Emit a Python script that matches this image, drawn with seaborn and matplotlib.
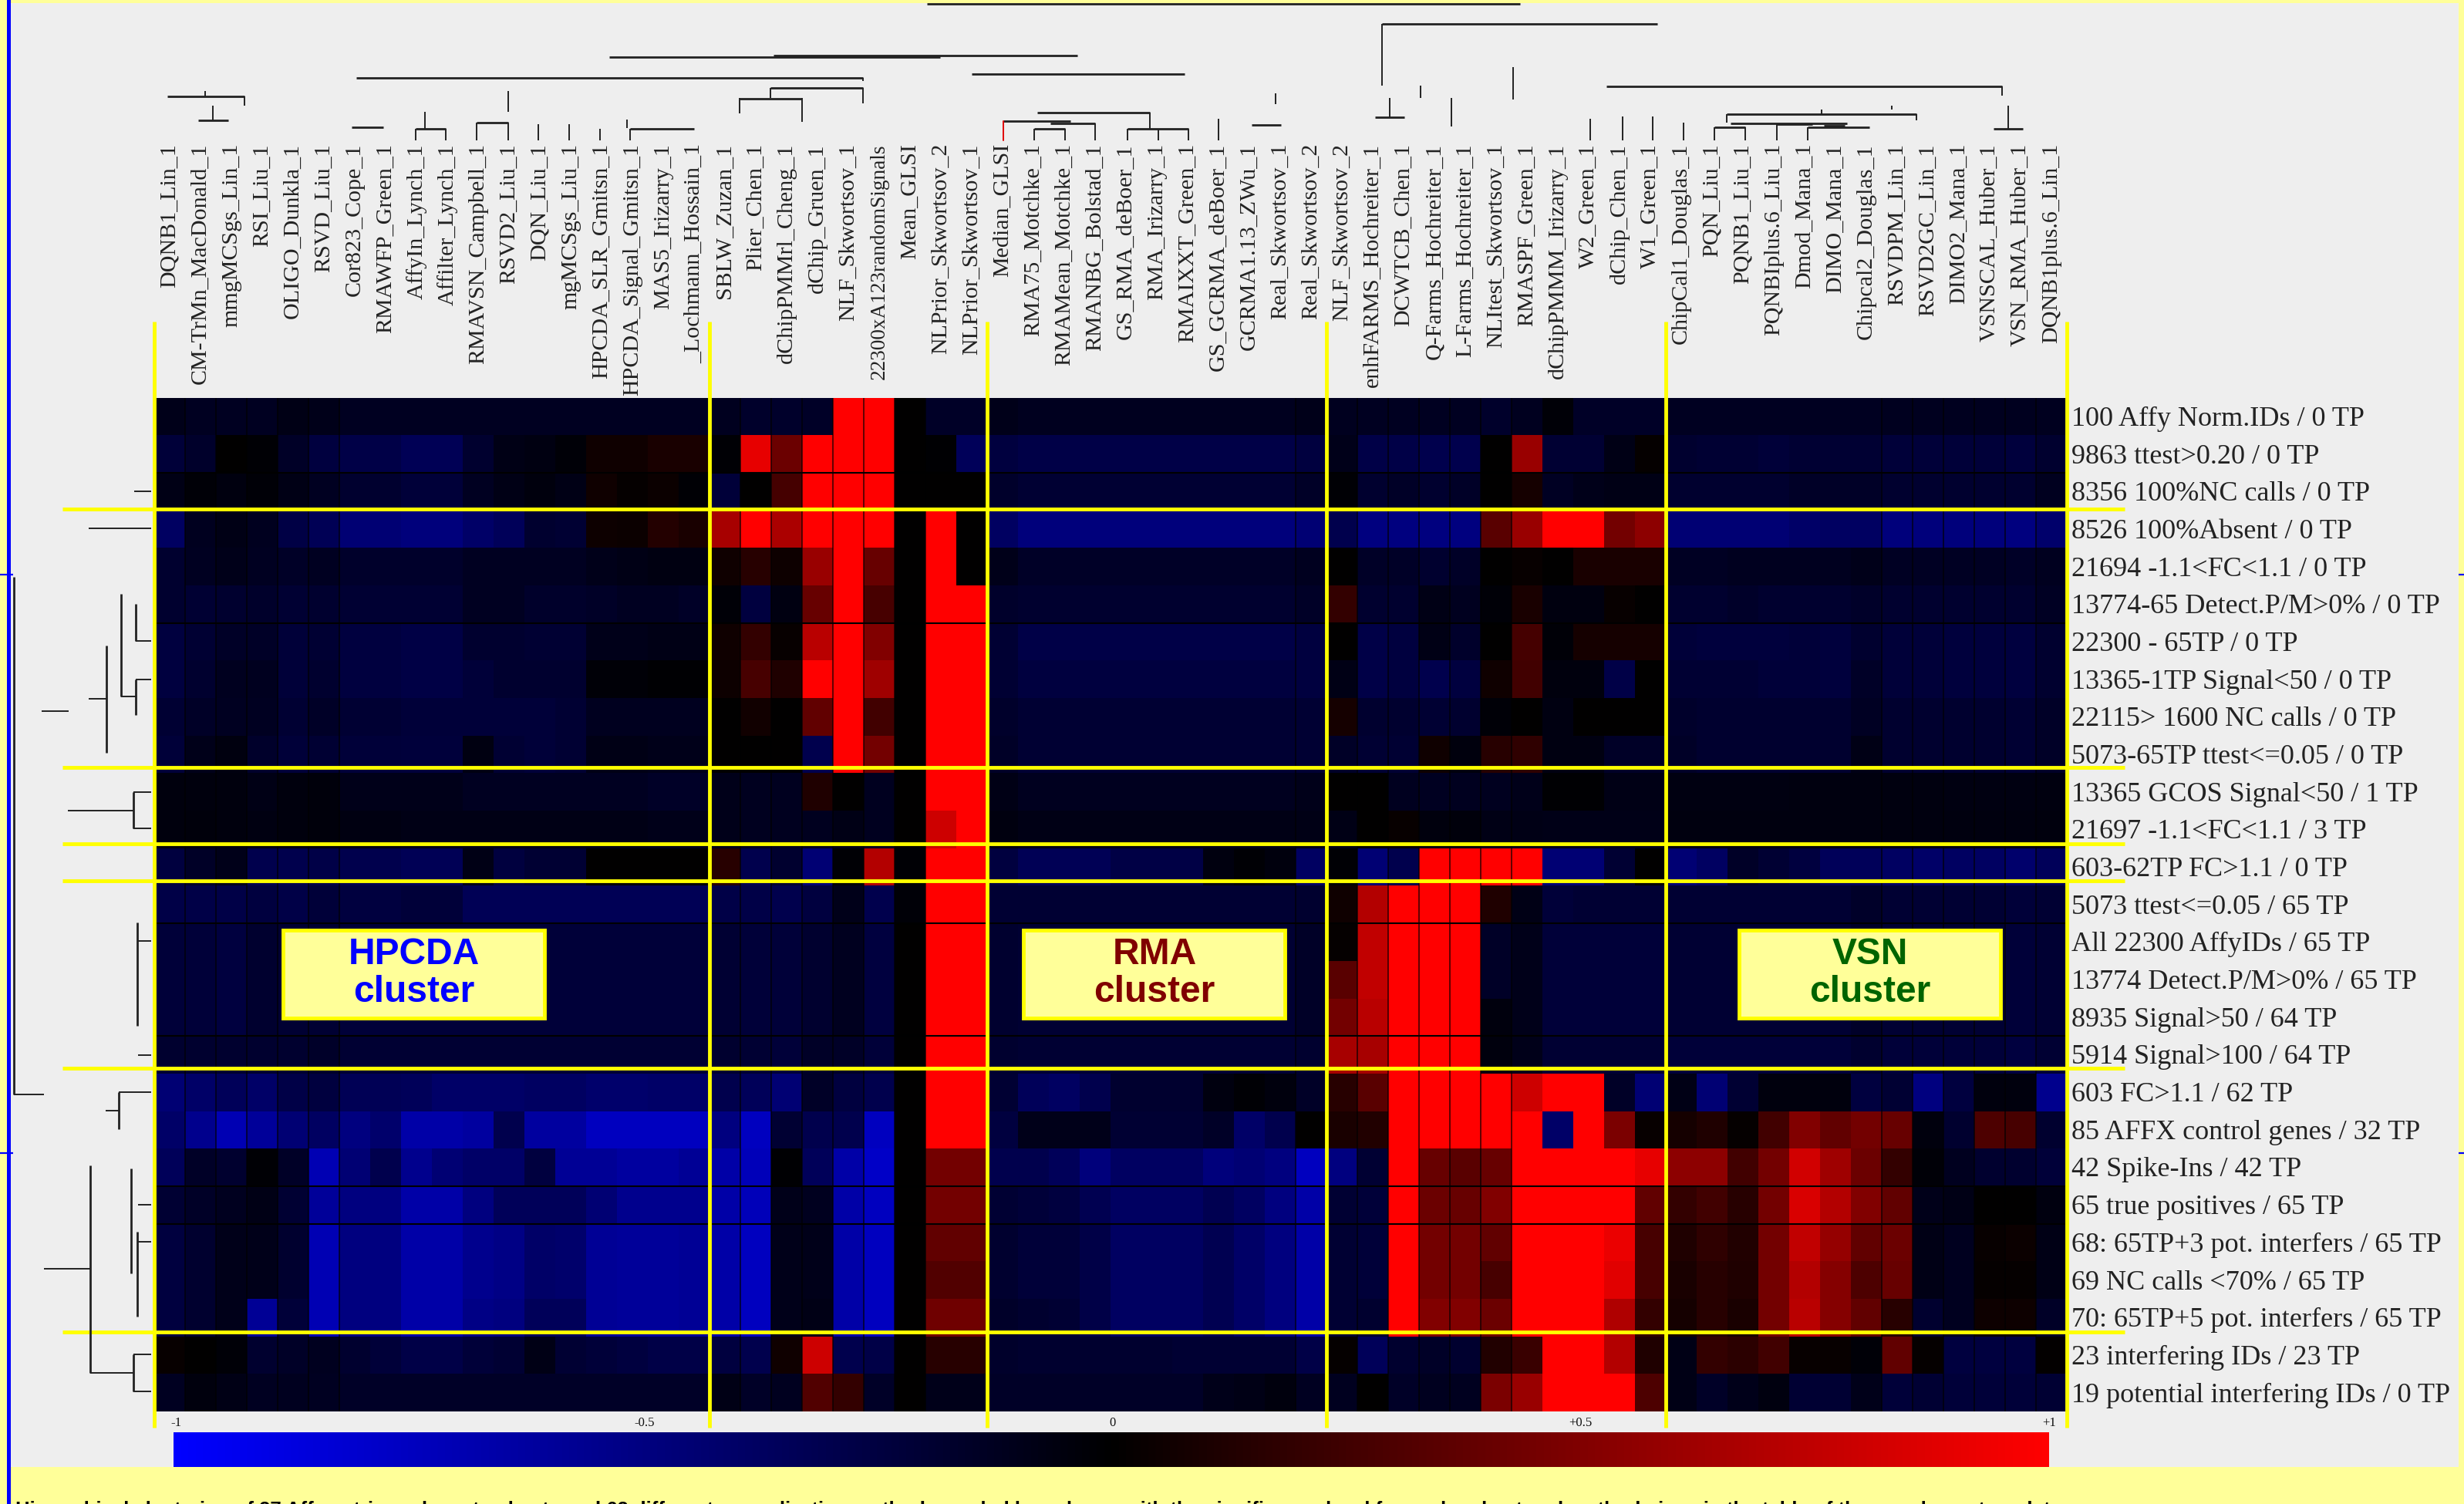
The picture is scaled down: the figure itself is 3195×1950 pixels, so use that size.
import numpy as np
import pandas as pd
import seaborn as sns
import matplotlib
matplotlib.use("Agg")
import matplotlib.pyplot as plt
from matplotlib.colors import LinearSegmentedColormap, Normalize
from matplotlib.cm import ScalarMappable
from matplotlib.patches import Rectangle

method_labels = ["DQNB1_Lin_1","CM-TrMn_MacDonald_1","mmgMCSgs_Lin_1","RSI_Liu_1","OLIGO_Dunkla_1","RSVD_Liu_1",
"Cor823_Cope_1","RMAWFP_Green_1","AffyIn_Lynch_1","Affilter_Lynch_1","RMAVSN_Campbell_1","RSVD2_Liu_1",
"DQN_Liu_1","mgMCSgs_Liu_1","HPCDA_SLR_Gmitsn_1","HPCDA_Signal_Gmitsn_1","MAS5_Irizarry_1","_Lochmann_Hossain_1",
"SBLW_Zuzan_1","Plier_Chen_1","dChipPMMrl_Cheng_1","dChip_Gruen_1","NLF_Skwortsov_1","22300xA123randomSignals",
"Mean_GLSI","NLPrior_Skwortsov_2","NLPrior_Skwortsov_1","Median_GLSI","RMA75_Motchke_1","RMAMean_Motchke_1",
"RMANBG_Bolstad_1","GS_RMA_deBoer_1","RMA_Irizarry_1","RMAIXXT_Green_1","GS_GCRMA_deBoer_1","GCRMA1.13_ZWu_1",
"Real_Skwortsov_1","Real_Skwortsov_2","NLF_Skwortsov_2","enhFARMS_Hochreiter_1","DCWTCB_Chen_1","Q-Farms_Hochreiter_1",
"L-Farms_Hochreiter_1","NLItest_Skwortsov_1","RMASPF_Green_1","dChipPMMM_Irizarry_1","W2_Green_1","dChip_Chen_1",
"W1_Green_1","ChipCal1_Douglas_1","PQN_Liu_1","PQNB1_Liu_1","PQNBIplus.6_Liu_1","Dmod_Mana_1","DIMO_Mana_1",
"Chipcal2_Douglas_1","RSVDPM_Lin_1","RSVD2GC_Lin_1","DIMO2_Mana_1","VSNSCAL_Huber_1","VSN_RMA_Huber_1","DQNB1plus.6_Lin_1"]

subset_labels = ["100 Affy Norm.IDs / 0 TP","9863 ttest>0.20 / 0 TP","8356 100%NC calls / 0 TP","8526 100%Absent / 0 TP",
"21694 -1.1<FC<1.1 / 0 TP","13774-65 Detect.P/M>0% / 0 TP","22300 - 65TP / 0 TP","13365-1TP Signal<50 / 0 TP",
"22115> 1600 NC calls / 0 TP","5073-65TP ttest<=0.05 / 0 TP","13365 GCOS Signal<50 / 1 TP","21697 -1.1<FC<1.1 / 3 TP",
"603-62TP FC>1.1 / 0 TP","5073 ttest<=0.05 / 65 TP","All 22300 AffyIDs / 65 TP","13774 Detect.P/M>0% / 65 TP",
"8935 Signal>50 / 64 TP","5914 Signal>100 / 64 TP","603 FC>1.1 / 62 TP","85 AFFX control genes / 32 TP",
"42 Spike-Ins / 42 TP","65 true positives / 65 TP","68: 65TP+3 pot. interfers / 65 TP","69 NC calls <70% / 65 TP",
"70: 65TP+5 pot. interfers / 65 TP","23 interfering IDs / 23 TP","19 potential interfering IDs / 0 TP"]

r00 = [-10,-13,-13,-13,-8,-10,-13,-13,-13,-13,-13,-13,-13,-13,-13,-13,-13,-13,-12,-17,-17,-15,100,100,0,-15,-15, -10,-12,-12,-12,-12,-12,-12,-12,-12,-12,-10, -12,-13,-13,-13,-13,-17,-12,-3,-15,-15,-15, -13,-13,-13,-13,-13,-13,-13,-12,-12,-12,-12,-12,-12]
r01 = [-22,-17,0,-2,-15,-25,-28,-28,-33,-33,-18,-8,-7,-3,6,6,10,10,-2,90,42,100,100,100,0,-1,-35, -25,-28,-28,-28,-28,-28,-28,-28,-28,-28,-25, -10,-28,-28,-30,-30,0,60,-20,-20,-8,2, -18,-20,-20,-22,-20,-20,-20,-22,-22,-22,-22,-24,-18]
r02 = [-8,-3,-6,-3,-8,-13,-18,-18,-22,-22,-13,-8,-5,-8,6,2,4,-2,-22,0,27,100,100,100,0,0,0, -17,-20,-20,-20,-20,-20,-20,-20,-20,-20,-15, -2,-18,-15,-18,-15,0,8,-14,-10,-8,-8, -18,-18,-18,-18,-15,-15,-15,-18,-18,-18,-18,-18,-12]
r03 = [-38,-12,-8,-12,-27,-33,-45,-45,-48,-48,-40,-35,-18,-20,5,4,14,10,65,100,67,100,100,100,0,100,0, -38,-48,-48,-48,-48,-48,-48,-48,-48,-48,-45, -30,-50,-50,-50,-50,35,60,100,100,45,55, -45,-45,-45,-45,-40,-38,-38,-48,-48,-48,-48,-50,-42]
r04 = [-18,-13,-10,-13,-15,-13,-17,-17,-17,-17,-13,-13,-13,-13,-10,-8,-7,-7,6,15,5,60,100,40,0,100,0, -10,-15,-15,-15,-15,-15,-15,-15,-15,-15,-12, 0,-15,-15,-18,-15,0,3,0,10,10,10, -14,-14,-12,-12,-12,-12,-10,-14,-14,-14,-14,-15,-12]
r05 = [-18,-20,-18,-17,-20,-18,-20,-20,-20,-20,-13,-13,-17,-17,-15,-13,-13,-15,-3,-25,-7,40,100,28,0,100,100, -17,-18,-18,-18,-18,-18,-18,-18,-18,-18,-15, 20,-18,-18,-8,-12,-3,10,-6,-6,3,0, -18,-18,-16,-18,-18,-18,-16,-18,-18,-18,-18,-18,-14]
r06 = [-25,-20,-15,-15,-22,-20,-25,-25,-27,-27,-18,-18,-20,-20,-10,-10,-8,-8,6,20,3,72,100,50,0,100,100, -20,-28,-28,-28,-28,-28,-28,-28,-28,-28,-25, 0,-28,-25,-8,-17,0,27,-3,8,8,8, -22,-24,-24,-24,-22,-24,-18,-22,-22,-24,-24,-25,-18]
r07 = [-25,-18,-12,-12,-22,-18,-25,-25,-27,-27,-22,-18,-18,-18,-3,-3,-1,-1,5,28,12,100,100,62,0,100,100, -20,-25,-25,-25,-25,-25,-25,-25,-25,-25,-25, -8,-28,-25,-30,-25,6,25,-5,-5,-28,0, -20,-20,-20,-22,-22,-24,-15,-22,-22,-24,-24,-25,-18]
r08 = [-20,-15,-13,-13,-20,-15,-20,-20,-22,-22,-22,-22,-22,-20,-12,-12,-12,-12,0,7,0,38,100,25,0,100,100, -17,-20,-20,-20,-20,-20,-20,-20,-20,-20,-20, 8,-18,-18,-20,-18,-3,0,-7,0,0,0, -17,-18,-18,-18,-18,-18,-14,-18,-18,-18,-18,-20,-15]
r09 = [-22,-10,-6,-17,-22,-20,-22,-22,-23,-23,-7,-20,-22,-20,-8,-8,-10,-10,0,0,0,-30,100,45,0,100,100, -15,-20,-20,-20,-20,-20,-20,-20,-20,-20,-20, -15,-20,-20,6,-5,15,18,-7,-7,-15,-15, -15,-18,-18,-18,-18,-18,-8,-18,-18,-18,-18,-20,-15]
r10 = [-5,-5,-5,-8,-5,-4,-10,-10,-10,-10,-13,-13,-13,-13,-13,-13,-15,-15,-10,-12,-12,12,0,-12,0,100,100, -8,-12,-12,-12,-12,-12,-12,-12,-12,-12,-10, 0,0,-12,-13,-12,-12,-10,-1,-1,-8,-8, -7,-7,-7,-7,-6,-6,-6,-6,-6,-7,-7,-7,-6]
r11 = [-5,-4,-5,-7,-5,-4,-7,-7,-8,-8,-8,-8,-8,-8,-8,-8,-10,-10,-10,-12,-12,-12,-8,-12,0,80,100, -6,-8,-8,-8,-8,-8,-8,-8,-8,-8,-8, -8,0,3,-5,-4,-8,-8,-9,-9,-9,-9, -6,-6,-6,-6,-6,-6,-6,-6,-6,-6,-6,-6,-5]
r12 = [-25,-15,-10,-30,-30,-28,-30,-30,-33,-33,-8,-25,-20,-20,0,0,0,0,15,-30,-18,-45,-2,70,-2,100,100, -25,-33,-33,-33,-27,-27,-27,-6,-2,-5,-38, -2,-45,-30,100,100,100,100,-45,-45,-20,0, -45,-38,-15,-20,-25,-35,-35,-38,-40,-38,-38,-42,-35]
r13 = [-28,-28,-28,-25,-28,-22,-25,-25,-22,-22,-33,-33,-33,-33,-33,-33,-33,-33,-28,-28,-30,-25,-10,-30,-3,100,100, -20,-20,-20,-20,-20,-20,-20,-20,-20,-20,-18, 6,70,100,100,100,12,-8,-22,-20,-20,-20, -20,-20,-20,-20,-20,-20,-16,-20,-20,-20,-20,-22,-20]
r14 = [-22,-22,-25,-18,-20,-20,-22,-22,-22,-22,-22,-22,-22,-22,-22,-22,-22,-22,-20,-22,-22,-18,-12,-25,0,100,100, -18,-20,-20,-20,-20,-20,-20,-20,-20,-20,-15, 2,75,100,100,100,-15,-10,-22,-22,-22,-22, -20,-20,-20,-20,-20,-20,-16,-20,-20,-20,-20,-22,-20]
r15 = [-22,-22,-25,-18,-20,-20,-22,-22,-22,-22,-22,-22,-22,-22,-22,-22,-22,-22,-20,-22,-22,-18,-12,-25,0,100,100, -18,-20,-20,-20,-20,-20,-20,-20,-20,-20,-15, 35,75,100,100,100,-15,-10,-22,-22,-22,-22, -20,-20,-20,-20,-20,-20,-16,-20,-20,-20,-20,-22,-20]
r16 = [-22,-22,-25,-18,-20,-20,-22,-22,-22,-22,-22,-22,-22,-22,-22,-22,-22,-22,-20,-22,-22,-18,-12,-25,0,100,100, -18,-20,-20,-20,-20,-20,-20,-20,-20,-20,-15, 45,72,100,100,100,-5,-10,-22,-22,-22,-22, -20,-20,-20,-20,-20,-20,-16,-20,-20,-20,-20,-22,-20]
r17 = [-18,-18,-18,-18,-18,-16,-20,-20,-20,-20,-20,-20,-20,-20,-20,-20,-20,-20,-18,-20,-22,-15,-15,-22,0,100,100, -18,-20,-20,-20,-20,-20,-20,-20,-20,-20,-18, 65,65,100,100,100,-5,-10,-20,-20,-20,-20, -22,-22,-22,-22,-22,-22,-18,-22,-22,-22,-22,-25,-20]
r18 = [-45,-40,-35,-40,-28,-25,-33,-33,-35,-40,-40,-40,-38,-38,-42,-42,-40,-40,-30,-35,-45,-15,-25,-30,0,100,100, -20,-35,-38,-30,-18,-18,-18,-6,-2,-5,-15, 15,35,100,100,100,100,80,100,100,-15,-45, -8,-45,-20,-5,-5,-5,-25,-20,-50,-25,-5,-5,-55]
r19 = [-40,-55,-70,-60,-45,-38,-50,-42,-65,-65,-62,-30,-62,-62,-75,-75,-75,-75,-50,-75,-20,-30,-30,-75,0,100,100, -25,-10,-10,-10,-20,-20,-20,-15,-40,-30,0, 10,13,100,100,100,100,100,-40,100,48,3, 8,12,2,25,50,38,45,40,-5,-18,30,28,-18]
r20 = [-35,-15,-18,-2,-15,-70,-45,-30,-55,-45,-40,-40,-25,-58,-58,-62,-62,-58,-65,-72,-1,-35,-65,-78,0,45,45, -30,-30,-35,-48,-38,-38,-38,-48,-45,-50,-75, -50,-20,100,40,35,40,100,100,100,100,90, 55,55,25,45,82,62,42,20,-3,-12,-18,-18,-22]
r21 = [-20,-15,-12,-8,-20,-60,-50,-50,-65,-65,-50,-35,-35,-35,-45,-55,-55,-55,-65,-72,-10,-12,-65,-75,0,45,45, -20,-22,-25,-32,-38,-38,-38,-32,-38,-50,-65, -20,-22,100,42,40,50,100,100,100,100,38, 20,25,15,45,85,70,50,38,-10,-8,0,0,-6]
r22 = [-25,-18,-10,-10,-18,-70,-50,-50,-65,-65,-55,-52,-40,-42,-58,-60,-60,-58,-65,-75,-10,-10,-65,-75,0,38,38, -18,-22,-22,-28,-38,-38,-38,-32,-40,-50,-65, -20,-22,100,45,45,38,100,100,100,92,28, 12,18,13,45,75,58,38,42,-8,-12,3,4,-8]
r23 = [-25,-18,-10,-10,-18,-70,-50,-50,-65,-65,-55,-52,-40,-42,-58,-60,-60,-58,-65,-75,-10,-10,-65,-75,0,32,32, -18,-22,-22,-28,-38,-38,-38,-32,-40,-50,-65, -20,-22,100,45,45,28,100,100,100,88,28, 10,15,12,45,70,52,30,40,-8,-12,2,2,-8]
r24 = [-25,-18,-10,-58,-22,-70,-50,-50,-65,-65,-52,-50,-35,-35,-58,-60,-60,-58,-65,-75,-10,-8,-65,-75,0,43,43, -16,-18,-20,-28,-38,-38,-38,-32,-40,-50,-65, -20,-18,100,50,50,42,100,100,100,68,20, 8,15,10,45,72,52,38,15,-18,-12,5,5,-15]
r25 = [3,0,-3,-18,-15,-12,-18,-22,-28,-28,-22,-20,-8,-20,-22,-25,-28,-28,-25,-30,6,80,-30,-28,0,15,15, -17,-18,-18,-18,-18,-18,-20,-20,-20,-20,-28, 2,-35,-18,-15,-18,13,22,100,100,70,12, -8,20,17,25,3,3,-3,38,2,-25,-25,-25,1]
r26 = [-13,-5,-8,-13,-12,-13,-15,-15,-15,-15,-15,-15,-15,-15,-15,-15,-15,-15,-8,-15,-12,32,20,-15,0,-10,-10, -15,-15,-15,-15,-15,-15,-15,-10,-8,-5,-13, -12,0,-15,-12,-12,48,60,100,100,100,30, -8,-15,-10,-6,-20,-20,-10,-22,-20,-22,-22,-22,-20]

rows = [r00,r01,r02,r03,r04,r05,r06,r07,r08,r09,r10,r11,r12,r13,r14,r15,r16,r17,r18,r19,r20,r21,r22,r23,r24,r25,r26]

# cluster separators (in column / row units)
yellow_cols = [0, 18, 27, 38, 49, 62]
yellow_rows = [2.97, 9.85, 11.88, 12.87, 17.86, 24.88]
dark_cols = [1,2,3,4,5,6,19,20,21,22,23,24,25,37,39,40,41,42,43,44,56,57,58,59,60,61]
dark_rows = [2, 6, 14, 17, 21, 22]
scale_ticks = ["-1", "-0.5", "0", "+0.5", "+1"]

# dendrogram segments (overlay pixel scale)
top_h = [(217,317.5,125),(257,296,156),(462,1119,101),(790,1219,74),(1003,1397,72),(1202,1971,5),(1260,1536,96),
(999,1119,114),(959,1040,127.5),(456,497,165),(539,578,167),(618,659,159),(817,900,167),
(1301,1388,157),(1362,1420,160),(1341,1381,167),(1345,1491,146),(1462,1541,167),(1623,1661,162),
(1792,2149,31),(1783,1821,152),(2083,2596,112),(2239,2485,148),(2244,2395,160),(2304,2350,161),(2223,2263,165),
(2344,2424,165),(2365,2392,163),(2585,2623,167)]
top_v = [(317.5,125,137),(266,118,125),(276,137,156),(1119,101,105),(1119,114,134),(999,114,127),(959,127,147),(1040,127,158),
(551,145,167),(539,167,182),(578,167,182),(618,159,182),(659,159,182),(659,118,145),(698,161,182),(738,161,182),(778,167,182),
(817,167,182),(813,155,166),
(1420,160,182),(1341,167,182),(1381,167,182),(1491,146,167),(1462,167,182),(1502,167,182),(1541,167,182),
(1580,154,182),(1654,121,135),(1792,31,111),(1842,111,127),(1802,127,152),(1882,127,164),(1962,87,129),(2596,112,124),
(2062,154,182),(2104,151,182),(2143,151,182),(2183,159,182),(2239,148,159),(2485,148,156),(2362,142,148),(2453,137,142),
(2223,165,182),(2263,165,182),(2304,160,182),(2344,165,182),(2604,137,167)]
red_branch = (1301,157,182)
left_h = [(174,196,637),(115,196,684.5),(157,176,903),(176,196,831),(176,196,881),(115,138,906),(54,89,922),
(88,173,1050.5),(173,196,1027),(173,196,1074),(178,196,1220),(179,196,1368),(18,57,1419),(154,196,1416),(137,154,1440),
(179,196,1562),(178,196,1610),(57,117,1645),(117,173,1780),(173,196,1756),(173,196,1804)]
left_v = [(157,770,903),(176,783,831),(176,881,927),(138,837,976),(173,1027,1074),(178,1196,1330),(18,748,1419),(154,1416,1464),
(170,1515,1651),(178,1597,1707),(117,1511,1780),(173,1756,1804)]

clusters = [("HPCDA\ncluster", 367, "#0000FF"), ("RMA\ncluster", 1327, "#800000"), ("VSN\ncluster", 2255, "#006400")]
footer_text = ("Hierarchical clustering of 27 Affymetrix probe set subsets and 62 different normalization methods, "
               "scaled by column, with the significance level for each subset and method given in the table of the supplementary data")

W, H = 3195, 1950
sns.set_theme(style="white")
plt.rcParams["font.family"] = ["Liberation Serif", "DejaVu Sans"]
fig = plt.figure(figsize=(W/100, H/100), dpi=100, facecolor="#EEEEEE")

cmap = LinearSegmentedColormap.from_list("bkr", ["#0000FF", "#000000", "#FF0000"], N=256)
df = pd.DataFrame(rows, index=subset_labels, columns=method_labels)
top, bottom = 515.6, 1830
ax = fig.add_axes([200/W, 1-bottom/H, 2480/W, (bottom-top)/H])
sns.heatmap(df, ax=ax, cmap=cmap, vmin=-100, vmax=100, cbar=False, xticklabels=False, yticklabels=False)
ax.set_xlabel(""); ax.set_ylabel("")
ax.vlines(dark_cols, 0, len(rows), color="black", lw=1.1, alpha=0.8)
ax.hlines(dark_rows, 0, len(method_labels), color="black", lw=1.5)

row_h = (bottom-top)/len(rows)
for k, lab in enumerate(method_labels):
    size = 19.6 if lab.startswith("22300x") else 21.6
    ax.text(k+0.5, -(top-186)/row_h, lab, rotation=90, ha="center", va="top", fontsize=size, color="#222222", clip_on=False)
for r, lab in enumerate(subset_labels):
    ax.text(62.15, r+0.57, lab, ha="left", va="center", fontsize=26, color="#222222", clip_on=False)

ax.vlines(yellow_cols, -(top-417)/row_h, len(rows)+(1851-bottom)/row_h, color="#FFFF00", lw=3.5, clip_on=False, zorder=5)
ax.hlines(yellow_rows, -(200-81)/40, 62+(2755-2680)/40, color="#FFFF00", lw=3.5, clip_on=False, zorder=5)

cax = fig.add_axes([225/W, 1-1902/H, (2657-225)/W, 45/H])
fig.colorbar(ScalarMappable(norm=Normalize(-100, 100), cmap=cmap), cax=cax, orientation="horizontal", ticks=[])
cax.xaxis.set_ticks([], minor=True)
cax.set_frame_on(False)

ov = fig.add_axes([0, 0, 1, 1], zorder=10)
ov.set_xlim(0, W); ov.set_ylim(H, 0); ov.axis("off"); ov.patch.set_alpha(0)
# page bands
ov.add_patch(Rectangle((0, 0), W, 4, fc="#FFFF99", ec="none"))
ov.add_patch(Rectangle((0, 1902), W, 48, fc="#FFFF99", ec="none"))
ov.add_patch(Rectangle((0, 0), 9, H, fc="#FFFF99", ec="none"))
ov.add_patch(Rectangle((3188, 0), 7, H, fc="#FFFF99", ec="none"))
ov.add_patch(Rectangle((9, 0), 5.5, H, fc="#0000FF", ec="none"))
ov.hlines([745, 1495], 0, 17, color="#0000FF", lw=1.6)
ov.hlines([745, 1495], 3188, 3195, color="#0000FF", lw=1.6)

dcol = "#222222"
for x0, x1, y in top_h: ov.plot([x0, x1], [y, y], color=dcol, lw=2.0, solid_capstyle="butt")
for x, y0, y1 in top_v: ov.plot([x, x], [y0, y1], color=dcol, lw=1.4, solid_capstyle="butt")
ov.plot([red_branch[0]]*2, red_branch[1:], color="#E00000", lw=1.4)
for x0, x1, y in left_h: ov.plot([x0, x1], [y, y], color=dcol, lw=1.4, solid_capstyle="butt")
for x, y0, y1 in left_v: ov.plot([x, x], [y0, y1], color=dcol, lw=2.0, solid_capstyle="butt")

for txt, x0, col in clusters:
    ov.add_patch(Rectangle((x0, 1206), 339, 114, fc="#FFFF99", ec="#FFFF00", lw=3.5))
    ov.text(x0+170, 1262, txt, ha="center", va="center", family="Liberation Sans", weight="bold",
            fontsize=34.5, color=col, linespacing=1.12)

for tick, x in zip(scale_ticks, np.linspace(228, 2657, len(scale_ticks))):
    ov.text(x, 1845, tick, ha="center", va="center", fontsize=12, color="#111111")

ov.text(20, 1946, footer_text, ha="left", va="top", family="Liberation Sans", weight="bold", fontsize=18.5, color="black", clip_on=True)

fig.savefig("out.png", dpi=100, facecolor=fig.get_facecolor())
